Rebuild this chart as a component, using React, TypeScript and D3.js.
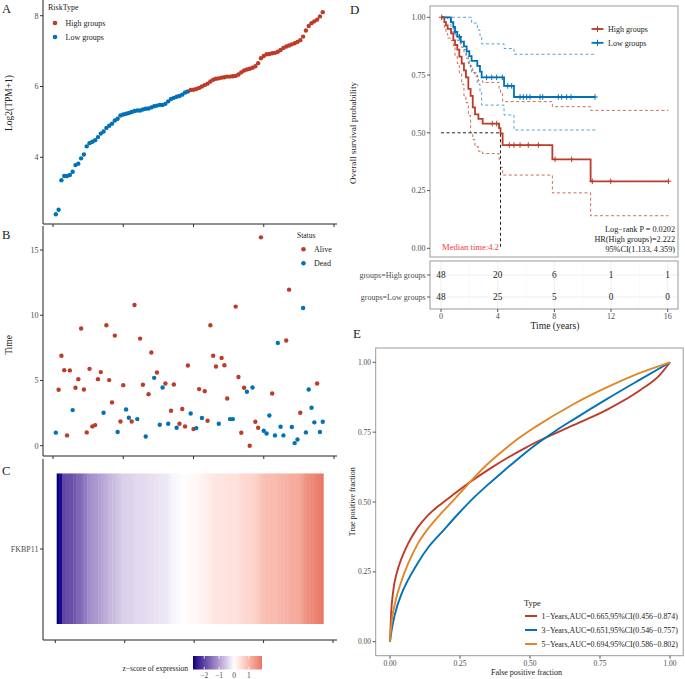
import React from "react";
import * as d3 from "d3";

const FONT = "'Liberation Serif', 'Times New Roman', serif";
const RED = "#BC3C29";
const BLUE = "#0072B5";
const ORANGE = "#E18727";
const TICK_GRAY = "#4D4D4D";
const BOX_GRAY = "#9A9A9A";

// ---------- Panel A: expression (sorted) ----------
const expression = [
  2.39, 2.52, 3.35, 3.47, 3.47, 3.5, 3.59, 3.78, 3.82, 3.97,
  4.08, 4.31, 4.4, 4.44, 4.48, 4.57, 4.67, 4.73, 4.83, 4.89,
  4.95, 5.04, 5.09, 5.18, 5.21, 5.23, 5.25, 5.28, 5.31, 5.32,
  5.32, 5.35, 5.37, 5.38, 5.41, 5.44, 5.46, 5.48, 5.48, 5.51,
  5.58, 5.65, 5.68, 5.71, 5.73, 5.77, 5.83, 5.86,
  5.9, 5.91, 5.93, 5.96, 6.0, 6.04, 6.08, 6.14, 6.19, 6.22,
  6.23, 6.25, 6.26, 6.28, 6.28, 6.29, 6.3, 6.34, 6.4, 6.45,
  6.48, 6.5, 6.53, 6.57, 6.66, 6.8, 6.86, 6.91, 6.92, 6.94,
  6.95, 6.98, 7.03, 7.09, 7.13, 7.16, 7.19, 7.22, 7.26, 7.31,
  7.41, 7.58, 7.71, 7.79, 7.84, 7.89, 7.98, 8.1,
];
const lowCount = 48;
const highCount = 48;
const riskType = [
  ...Array(lowCount).fill("Low groups"),
  ...Array(highCount).fill("High groups"),
];
const riskLevels = ["High groups", "Low groups"];
const exprTicks = [4, 6, 8];
const indexTicks = [0, 25, 50, 75, 100];

// ---------- Panel B: survival time / status ----------
const survTime = [
  1.0, 4.29, 6.89, 5.79, 0.79, 5.77, 2.73, 4.44, 5.1, 8.98,
  4.31, 1.02, 5.89, 1.48, 1.58, 5.1, 5.64, 2.53, 9.23, 5.03,
  3.32, 8.44, 1.05, 1.86, 4.64, 2.78, 2.14, 1.86, 10.79, 2.04,
  8.21, 4.67, 0.71, 3.95, 7.14, 5.2, 5.61, 1.61, 4.46, 4.77,
  1.68, 2.68, 4.69, 1.38, 1.68, 2.81, 1.48, 6.15, 2.47, 1.28,
  1.35, 4.34, 2.12, 4.18, 1.91, 9.23, 6.89, 6.07, 1.68, 6.73,
  6.17, 3.62, 2.04, 2.04, 10.66, 5.26, 0.99, 4.44, 4.13, 0.0,
  4.46, 1.84, 1.38, 15.97, 1.15, 0.94, 2.32, 4.0, 0.79, 7.88,
  1.45, 0.79, 8.06, 11.96, 1.43, 0.2, 0.48, 2.53, 10.56, 1.02,
  4.31, 2.91, 1.79, 4.77, 1.05, 1.84,
];
const deadFlag = [
  1, 0, 0, 0, 0, 0, 1, 0, 0, 0,
  0, 0, 0, 0, 0, 0, 0, 1, 0, 0,
  0, 0, 1, 0, 0, 1, 1, 0, 0, 1,
  0, 0, 1, 0, 0, 1, 0, 1, 1, 0,
  1, 0, 0, 1, 0, 0, 0, 0, 1, 0,
  1, 0, 1, 0, 0, 0, 0, 0, 1, 0,
  0, 0, 1, 1, 0, 0, 0, 0, 1, 0,
  1, 0, 0, 0, 1, 1, 1, 0, 1, 1,
  1, 1, 0, 0, 1, 1, 1, 0, 1, 1,
  1, 1, 1, 0, 1, 1,
];
const statusLevels = ["Alive", "Dead"];
const timeTicks = [0, 5, 10, 15];

// ---------- Panel C ----------
const geneName = "FKBP11";
const zTicks = [-2, -1, 0, 1];

// ---------- Panel D: Kaplan-Meier ----------
const highTimes = [0, 0.24, 0.35, 0.47, 0.71, 0.87, 0.99, 1.15, 1.29, 1.46, 1.62, 1.76, 1.93, 2.09, 2.24, 2.4, 2.64, 2.94, 4.1, 4.2, 4.35, 7.86, 10.56, 16.05];
const highSurv = [1, 0.979, 0.965, 0.95, 0.93, 0.9, 0.88, 0.86, 0.83, 0.8, 0.77, 0.74, 0.69, 0.66, 0.61, 0.58, 0.56, 0.54, 0.52, 0.497, 0.447, 0.385, 0.29, 0.29];
const highUpper = [1, 1, 1, 0.99, 0.975, 0.96, 0.94, 0.92, 0.89, 0.87, 0.85, 0.83, 0.8, 0.78, 0.76, 0.745, 0.725, 0.718, 0.69, 0.67, 0.635, 0.613, 0.597, 0.597];
const highLower = [1, 0.95, 0.93, 0.91, 0.9, 0.87, 0.83, 0.8, 0.76, 0.71, 0.66, 0.63, 0.575, 0.5, 0.47, 0.44, 0.42, 0.41, 0.385, 0.35, 0.317, 0.24, 0.141, 0.141];
const highCensor = [0.05, 3.62, 3.93, 4.82, 5.15, 5.58, 6.16, 6.87, 8.05, 9.22, 10.68, 11.98, 16.05];

const lowTimes = [0, 0.7, 0.87, 0.99, 1.15, 1.39, 1.62, 1.81, 2.0, 2.16, 2.56, 2.75, 2.87, 4.45, 5.15, 10.9];
const lowSurv = [1, 0.979, 0.958, 0.937, 0.916, 0.895, 0.874, 0.853, 0.832, 0.811, 0.79, 0.765, 0.74, 0.703, 0.655, 0.655];
const lowUpper = [1, 1, 1, 1, 1, 1, 1, 1, 1, 0.975, 0.945, 0.92, 0.885, 0.865, 0.84, 0.84];
const lowLower = [1, 0.96, 0.94, 0.92, 0.9, 0.88, 0.86, 0.82, 0.79, 0.76, 0.71, 0.675, 0.62, 0.577, 0.512, 0.512];
const lowCensor = [1.0, 1.3, 3.22, 3.58, 3.93, 4.33, 4.71, 4.99, 5.58, 5.81, 6.05, 6.28, 6.99, 7.18, 8.28, 8.52, 8.87, 9.18, 10.87];

const medianTime = 4.2;
const survTicks = [0, 0.25, 0.5, 0.75, 1];
const yearTicks = [0, 4, 8, 12, 16];
const riskHigh = [48, 20, 6, 1, 1];
const riskLow = [48, 25, 5, 0, 0];
const kmStats = ["Log\u2212rank P = 0.0202", "HR(High groups)=2.222", "95%CI(1.133, 4.359)"];

// ---------- Panel E: ROC ----------
const roc1X = [0, 0.004, 0.012, 0.024, 0.042, 0.065, 0.1, 0.137, 0.185, 0.232, 0.28, 0.363, 0.423, 0.482, 0.518, 0.655, 0.774, 0.893, 0.964, 1.0];
const roc1Y = [0, 0.1, 0.185, 0.245, 0.3, 0.352, 0.41, 0.454, 0.495, 0.531, 0.567, 0.623, 0.66, 0.693, 0.712, 0.775, 0.83, 0.9, 0.955, 1.0];
const roc3X = [0, 0.006, 0.018, 0.042, 0.065, 0.1, 0.137, 0.185, 0.244, 0.304, 0.351, 0.399, 0.458, 0.518, 0.595, 0.655, 0.774, 0.893, 1.0];
const roc3Y = [0, 0.042, 0.1, 0.173, 0.222, 0.283, 0.338, 0.392, 0.458, 0.52, 0.563, 0.605, 0.655, 0.703, 0.757, 0.795, 0.868, 0.938, 1.0];
const roc5X = [0, 0.004, 0.018, 0.042, 0.065, 0.1, 0.137, 0.185, 0.232, 0.28, 0.339, 0.399, 0.458, 0.518, 0.655, 0.774, 0.893, 1.0];
const roc5Y = [0, 0.054, 0.137, 0.22, 0.28, 0.352, 0.406, 0.462, 0.512, 0.565, 0.627, 0.68, 0.727, 0.768, 0.85, 0.91, 0.962, 1.0];
const rocLabels = [
  "1\u2212Years,AUC=0.665,95%CI(0.456\u22120.874)",
  "3\u2212Years,AUC=0.651,95%CI(0.546\u22120.757)",
  "5\u2212Years,AUC=0.694,95%CI(0.586\u22120.802)",
];
const fracTicks = [0, 0.25, 0.5, 0.75, 1];

const T = (p: any) => <text fontFamily={FONT} {...p} />;

export default function App() {
  // scales
  const xIdx = d3.scaleLinear().domain([0, 100]).range([53, 334]);
  const yA = d3.scaleLinear().domain([4, 8]).range([157.3, 15.7]);
  const yB = d3.scaleLinear().domain([0, 15]).range([445.7, 250]);
  const xC = d3.scaleLinear().domain([0, 100]).range([55.3, 333]);
  const xD = d3.scaleLinear().domain([0, 16]).range([441, 667.7]);
  const yD = d3.scaleLinear().domain([0, 1]).range([248.3, 17.3]);
  const xE = d3.scaleLinear().domain([0, 1]).range([390, 670]);
  const yE = d3.scaleLinear().domain([0, 1]).range([641.7, 362.3]);

  const riskColor = d3.scaleOrdinal<string, string>().domain(riskLevels).range([RED, BLUE]);
  const statusColor = d3.scaleOrdinal<string, string>().domain(statusLevels).range([RED, BLUE]);

  // z-scores
  const mean = d3.mean(expression) as number;
  const sd = d3.deviation(expression) as number;
  const z = expression.map((v) => (v - mean) / sd);
  const zMin = d3.min(z) as number;
  const zMax = d3.max(z) as number;
  const zLim = Math.max(Math.abs(zMin), Math.abs(zMax));
  const heatColor = d3
    .scaleLinear<string>()
    .domain([-zLim, 0, zLim])
    .range(["navy", "white", "#CD2626"])
    .interpolate(d3.interpolateLab);
  const xBar = d3.scaleLinear().domain([zMin, zMax]).range([193, 262]);
  const gradStops = d3.range(0, 1.0001, 0.05).map((f) => zMin + f * (zMax - zMin));

  // KM
  const stepLine = d3
    .line<[number, number]>()
    .x((d) => xD(d[0]))
    .y((d) => yD(d[1]))
    .curve(d3.curveStepAfter);
  const zip = (a: number[], b: number[]) => a.map((t, i) => [t, b[i]] as [number, number]);
  const survAt = (times: number[], surv: number[], t: number) => {
    let s = surv[0];
    for (let i = 0; i < times.length; i++) if (times[i] <= t) s = surv[i];
    return s;
  };

  // ROC
  const rocLine = d3
    .line<[number, number]>()
    .x((d) => xE(d[0]))
    .y((d) => yE(d[1]))
    .curve(d3.curveMonotoneX);
  const rocSeries = [
    { x: roc1X, y: roc1Y, c: RED },
    { x: roc3X, y: roc3Y, c: BLUE },
    { x: roc5X, y: roc5Y, c: ORANGE },
  ];

  const cross = (cx: number, cy: number, col: string, key: any, s = 3) => (
    <g key={key} stroke={col} strokeWidth={1}>
      <line x1={cx - s} x2={cx + s} y1={cy} y2={cy} />
      <line x1={cx} x2={cx} y1={cy - s} y2={cy + s} />
    </g>
  );

  return (
    <svg
      width={685}
      height={679}
      style={{ position: "absolute", left: 0, top: 0, background: "white" }}
    >
      <rect x={0} y={0} width={685} height={679} fill="white" />

      {/* ================= Panel A ================= */}
      <T x={2} y={13} fontSize={12.5} fill="#222">A</T>
      <line x1={43} x2={43} y1={0} y2={224} stroke="#222" strokeWidth={1} />
      <line x1={43} x2={337} y1={224} y2={224} stroke="#222" strokeWidth={1} />
      {exprTicks.map((t) => (
        <g key={t}>
          <line x1={40} x2={43} y1={yA(t)} y2={yA(t)} stroke="#333" />
          <T x={38.5} y={yA(t) + 2.8} fontSize={8} fill={TICK_GRAY} textAnchor="end">{t}</T>
        </g>
      ))}
      {indexTicks.map((t) => (
        <line key={t} x1={xIdx(t)} x2={xIdx(t)} y1={224} y2={227} stroke="#333" />
      ))}
      <T x={0} y={0} fontSize={9.5} fill="#222" textAnchor="middle" transform="translate(12,103) rotate(-90)">
        Log2(TPM+1)
      </T>
      {expression.map((v, i) => (
        <circle key={i} cx={xIdx(i + 1)} cy={yA(v)} r={2.2} fill={riskColor(riskType[i])} />
      ))}
      <T x={48} y={10} fontSize={8} fill="#222">RiskType</T>
      {riskLevels.map((lv, i) => (
        <g key={lv}>
          <circle cx={55} cy={23 + i * 14} r={2.3} fill={riskColor(lv)} />
          <T x={65.5} y={26 + i * 14} fontSize={8} fill="#222">{lv}</T>
        </g>
      ))}

      {/* ================= Panel B ================= */}
      <T x={2} y={239} fontSize={12.5} fill="#222">B</T>
      <line x1={43} x2={43} y1={226} y2={456} stroke="#222" strokeWidth={1} />
      <line x1={43} x2={337} y1={456} y2={456} stroke="#222" strokeWidth={1} />
      {timeTicks.map((t) => (
        <g key={t}>
          <line x1={40} x2={43} y1={yB(t)} y2={yB(t)} stroke="#333" />
          <T x={38.5} y={yB(t) + 2.8} fontSize={8} fill={TICK_GRAY} textAnchor="end">{t}</T>
        </g>
      ))}
      {indexTicks.map((t) => (
        <line key={t} x1={xIdx(t)} x2={xIdx(t)} y1={456} y2={459} stroke="#333" />
      ))}
      <T x={0} y={0} fontSize={9.5} fill="#222" textAnchor="middle" transform="translate(12,345) rotate(-90)">
        Time
      </T>
      {survTime.map((v, i) => (
        <circle
          key={i}
          cx={xIdx(i + 1)}
          cy={yB(v)}
          r={2.2}
          fill={statusColor(deadFlag[i] ? "Dead" : "Alive")}
        />
      ))}
      <T x={297} y={238} fontSize={7.5} fill="#222">Status</T>
      {statusLevels.map((lv, i) => (
        <g key={lv}>
          <circle cx={303.5} cy={249.3 + i * 14} r={2.3} fill={statusColor(lv)} />
          <T x={314} y={252.3 + i * 14} fontSize={8} fill="#222">{lv}</T>
        </g>
      ))}

      {/* ================= Panel C ================= */}
      <T x={2} y={475} fontSize={12.5} fill="#222">C</T>
      <line x1={43} x2={43} y1={459} y2={640} stroke="#222" strokeWidth={1} />
      <line x1={43} x2={337} y1={640} y2={640} stroke="#222" strokeWidth={1} />
      {indexTicks.map((t) => (
        <line key={t} x1={xC(t)} x2={xC(t)} y1={640} y2={643} stroke="#333" />
      ))}
      <line x1={40} x2={43} y1={549} y2={549} stroke="#333" />
      <T x={38.5} y={551.8} fontSize={8} fill={TICK_GRAY} textAnchor="end">{geneName}</T>
      {z.map((v, i) => (
        <rect
          key={i}
          x={xC(i + 0.5)}
          y={473.5}
          width={xC(i + 1.5) - xC(i + 0.5) + 0.4}
          height={150.5}
          fill={heatColor(v)}
        />
      ))}
      <defs>
        <linearGradient id="zgrad" x1="0" x2="1" y1="0" y2="0">
          {gradStops.map((v, i) => (
            <stop key={i} offset={`${(i / (gradStops.length - 1)) * 100}%`} stopColor={heatColor(v)} />
          ))}
        </linearGradient>
      </defs>
      <T x={188} y={670.5} fontSize={7.5} fill="#222" textAnchor="end">z{"\u2212"}score of expression</T>
      <rect x={xBar(zMin)} y={656} width={xBar(zMax) - xBar(zMin)} height={13.5} fill="url(#zgrad)" />
      {zTicks.map((t) => (
        <g key={t}>
          <line x1={xBar(t)} x2={xBar(t)} y1={656} y2={658.7} stroke="white" strokeWidth={0.8} />
          <line x1={xBar(t)} x2={xBar(t)} y1={666.8} y2={669.5} stroke="white" strokeWidth={0.8} />
          <T x={xBar(t)} y={678} fontSize={7.5} fill={TICK_GRAY} textAnchor="middle">
            {t < 0 ? `\u2212${Math.abs(t)}` : t}
          </T>
        </g>
      ))}

      {/* ================= Panel D ================= */}
      <T x={350} y={14} fontSize={13} fill="#222">D</T>
      <rect x={430} y={6} width={248} height={251} fill="none" stroke={BOX_GRAY} strokeWidth={1} />
      {survTicks.map((t) => (
        <g key={t}>
          <line x1={427} x2={430} y1={yD(t)} y2={yD(t)} stroke="#555" />
          <T x={425.5} y={yD(t) + 2.8} fontSize={8} fill={TICK_GRAY} textAnchor="end">
            {t.toFixed(2)}
          </T>
        </g>
      ))}
      <T x={0} y={0} fontSize={9.2} fill="#222" textAnchor="middle" transform="translate(356,133) rotate(-90)">
        Overall survival probability
      </T>
      {/* CIs */}
      <path d={stepLine(zip(lowTimes, lowUpper)) || ""} fill="none" stroke={BLUE} strokeOpacity={0.65} strokeWidth={1} strokeDasharray="3,2.5" />
      <path d={stepLine(zip(lowTimes, lowLower)) || ""} fill="none" stroke={BLUE} strokeOpacity={0.65} strokeWidth={1} strokeDasharray="3,2.5" />
      <path d={stepLine(zip(highTimes, highUpper)) || ""} fill="none" stroke={RED} strokeOpacity={0.75} strokeWidth={1} strokeDasharray="3,2.5" />
      <path d={stepLine(zip(highTimes, highLower)) || ""} fill="none" stroke={RED} strokeOpacity={0.75} strokeWidth={1} strokeDasharray="3,2.5" />
      {/* median */}
      <path
        d={`M${xD(0)},${yD(0.5)}H${xD(medianTime)}V${yD(0)}`}
        fill="none"
        stroke="#222"
        strokeWidth={1}
        strokeDasharray="3,2.5"
      />
      {/* curves */}
      <path d={stepLine(zip(highTimes, highSurv)) || ""} fill="none" stroke={RED} strokeWidth={1.8} />
      <path d={stepLine(zip(lowTimes, lowSurv)) || ""} fill="none" stroke={BLUE} strokeWidth={1.8} />
      {highCensor.map((t, i) => cross(xD(t), yD(survAt(highTimes, highSurv, t)), RED, "hc" + i, 2.8))}
      {lowCensor.map((t, i) => cross(xD(t), yD(survAt(lowTimes, lowSurv, t)), BLUE, "lc" + i, 2.8))}
      {/* legend */}
      {[
        { lv: "High groups", c: RED },
        { lv: "Low groups", c: BLUE },
      ].map((d, i) => (
        <g key={d.lv}>
          <line x1={591.5} x2={603.5} y1={29 + i * 13.8} y2={29 + i * 13.8} stroke={d.c} strokeWidth={1.8} />
          {cross(597.5, 29 + i * 13.8, d.c, "lg" + i, 3)}
          <T x={608} y={31.8 + i * 13.8} fontSize={8} fill="#222">{d.lv}</T>
        </g>
      ))}
      {kmStats.map((s, i) => (
        <T key={i} x={675} y={231.5 + i * 10.4} fontSize={8.2} fill="#222" textAnchor="end">{s}</T>
      ))}
      <T x={470.5} y={249.5} fontSize={8.6} fill="#F03A3A" textAnchor="middle">Median time:4.2</T>

      {/* risk table */}
      <rect x={430} y={261} width={248} height={48} fill="white" />
      {d3.range(0, 17, 2).map((t) => (
        <line key={t} x1={xD(t)} x2={xD(t)} y1={261} y2={309} stroke={t % 4 === 0 ? "#EBEBEB" : "#F5F5F5"} strokeWidth={t % 4 === 0 ? 0.8 : 0.5} />
      ))}
      {[275, 297].map((y) => (
        <line key={y} x1={430} x2={678} y1={y} y2={y} stroke="#EBEBEB" strokeWidth={0.8} />
      ))}
      <rect x={430} y={261} width={248} height={48} fill="none" stroke={BOX_GRAY} strokeWidth={1} />
      {[
        { lab: "groups=High groups", vals: riskHigh, y: 275 },
        { lab: "groups=Low groups", vals: riskLow, y: 297 },
      ].map((r) => (
        <g key={r.lab}>
          <line x1={427} x2={430} y1={r.y} y2={r.y} stroke="#555" />
          <T x={425.5} y={r.y + 2.8} fontSize={8} fill={TICK_GRAY} textAnchor="end">{r.lab}</T>
          {r.vals.map((v, i) => (
            <T key={i} x={xD(yearTicks[i])} y={r.y + 3.3} fontSize={9.3} fill="#222" textAnchor="middle">{v}</T>
          ))}
        </g>
      ))}
      {yearTicks.map((t) => (
        <g key={t}>
          <line x1={xD(t)} x2={xD(t)} y1={309} y2={312} stroke="#555" />
          <T x={xD(t)} y={318.5} fontSize={8} fill={TICK_GRAY} textAnchor="middle">{t}</T>
        </g>
      ))}
      <T x={555} y={328.5} fontSize={9.6} fill="#222" textAnchor="middle">Time (years)</T>

      {/* ================= Panel E ================= */}
      <T x={353} y={338} fontSize={13} fill="#222">E</T>
      <rect x={375.7} y={348} width={307.5} height={307.7} fill="none" stroke={BOX_GRAY} strokeWidth={1} />
      {fracTicks.map((t) => (
        <g key={t}>
          <line x1={372.7} x2={375.7} y1={yE(t)} y2={yE(t)} stroke="#555" />
          <T x={371} y={yE(t) + 2.6} fontSize={7.5} fill={TICK_GRAY} textAnchor="end">{t.toFixed(2)}</T>
          <line x1={xE(t)} x2={xE(t)} y1={655.7} y2={658.7} stroke="#555" />
          <T x={xE(t)} y={665.5} fontSize={7.5} fill={TICK_GRAY} textAnchor="middle">{t.toFixed(2)}</T>
        </g>
      ))}
      <T x={526.5} y={674.5} fontSize={8} fill="#222" textAnchor="middle">False positive fraction</T>
      <T x={0} y={0} fontSize={8} fill="#222" textAnchor="middle" transform="translate(354.5,501.7) rotate(-90)">
        True positive fraction
      </T>
      {rocSeries.map((s, i) => (
        <path key={i} d={rocLine(zip(s.x, s.y)) || ""} fill="none" stroke={s.c} strokeWidth={1.9} />
      ))}
      <T x={524} y={605.5} fontSize={8.5} fill="#222">Type</T>
      {rocLabels.map((lab, i) => (
        <g key={lab}>
          <line x1={525} x2={537} y1={616 + i * 14} y2={616 + i * 14} stroke={rocSeries[i].c} strokeWidth={2} />
          <T x={541.5} y={618.8 + i * 14} fontSize={7.9} fill="#222">{lab}</T>
        </g>
      ))}
    </svg>
  );
}
